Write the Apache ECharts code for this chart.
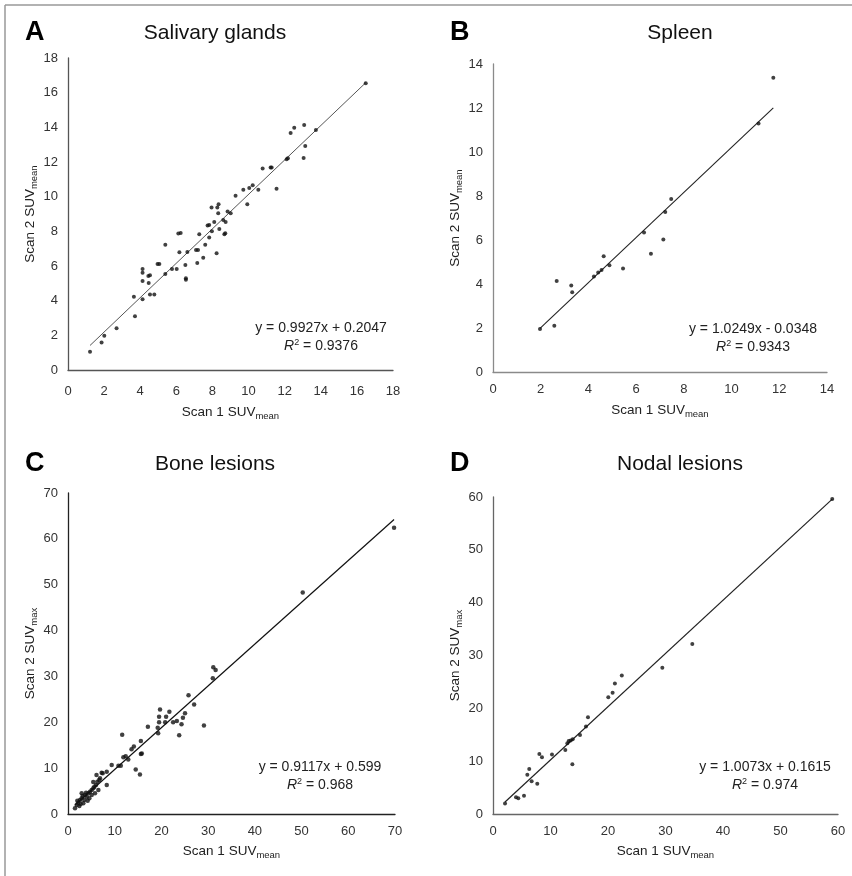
<!DOCTYPE html>
<html>
<head>
<meta charset="utf-8">
<script src="https://cdn.jsdelivr.net/npm/echarts@6/dist/echarts.min.js"></script>
<style>
html, body { margin: 0; padding: 0; background: #fff; }
#chart { width: 852px; height: 876px; }
</style>
</head>
<body>
<div id="chart"></div>
<script>
// A - salivary glands (scan 1 vs scan 2 SUVmean)
var salivaryX = [1.22, 1.86, 2.01, 2.69, 3.71, 3.65, 4.13, 4.13, 4.13, 4.13, 4.45, 4.54, 4.47, 4.54, 4.78, 4.96, 5.06, 5.39, 5.39, 5.76,
	6.02, 6.11, 6.24, 6.17, 6.50, 6.53, 6.53, 6.61, 7.09, 7.20, 7.16, 7.27, 7.49, 7.60, 7.82, 7.73, 7.82, 7.97, 7.95, 8.10,
	8.23, 8.27, 8.34, 8.32, 8.38, 8.60, 8.73, 8.66, 8.71, 8.84, 9.01, 9.28, 9.71, 9.93, 10.04, 10.23, 10.54, 10.78, 11.22, 11.28,
	11.55, 12.11, 12.18, 12.33, 12.53, 13.08, 13.73, 13.14, 13.05, 16.49];
var salivaryY = [1.06, 1.58, 1.98, 2.41, 3.10, 4.23, 4.08, 5.13, 5.61, 5.83, 5.42, 5.46, 5.02, 4.36, 4.36, 6.12, 6.12, 5.54, 7.23, 5.83,
	5.83, 7.87, 7.90, 6.79, 6.06, 5.29, 5.20, 6.81, 6.92, 6.92, 6.17, 7.83, 6.48, 7.23, 7.64, 8.33, 8.37, 8.00, 9.37, 8.54,
	6.73, 9.37, 9.56, 9.04, 8.13, 8.65, 8.54, 7.83, 7.89, 9.14, 9.04, 10.06, 10.40, 9.56, 10.50, 10.66, 10.40, 11.62, 11.68, 11.68,
	10.46, 12.16, 12.22, 13.68, 13.98, 14.14, 13.85, 12.93, 12.23, 16.54];

// B - spleen
var spleenX = [1.97, 2.57, 2.67, 3.28, 3.32, 4.23, 4.41, 4.55, 4.64, 4.88, 5.45, 6.33, 6.62, 7.14, 7.22, 7.47, 11.13, 11.75];
var spleenY = [1.95, 2.10, 4.14, 3.93, 3.63, 4.34, 4.52, 4.64, 5.26, 4.85, 4.70, 6.34, 5.37, 6.02, 7.27, 7.86, 11.30, 13.37];

// C - bone lesions (SUVmean vs SUVmax)
var boneX = [1.50, 1.86, 2.00, 2.20, 2.43, 2.57, 2.71, 2.93, 2.93, 3.14, 3.28, 3.50, 3.64, 3.86, 4.00, 4.21, 4.35, 4.57, 4.71, 5.07,
	5.07, 5.42, 5.64, 5.78, 6.00, 6.28, 6.50, 6.85, 7.42, 5.40, 6.10, 6.70, 7.20, 8.30, 8.30, 9.35, 10.80, 11.30, 11.60, 11.85,
	12.35, 12.90, 13.60, 14.10, 14.50, 15.40, 15.60, 15.60, 15.80, 17.10, 19.20, 19.30, 19.50, 19.50, 19.70, 20.80, 21.00, 21.70, 22.50, 23.30,
	23.80, 24.30, 24.60, 25.05, 25.80, 27.00, 29.10, 31.00, 31.10, 31.60, 50.25, 69.80];
var boneY = [1.24, 1.96, 2.90, 2.47, 1.74, 3.05, 2.18, 3.41, 4.51, 3.92, 2.32, 3.05, 4.14, 4.65, 3.78, 2.90, 4.51, 3.41, 4.87, 5.23,
	4.14, 5.60, 5.96, 4.51, 6.30, 7.05, 5.23, 7.77, 8.87, 7.00, 8.50, 7.40, 9.00, 9.20, 6.30, 10.70, 10.50, 10.50, 17.30, 12.40,
	12.60, 11.90, 14.10, 14.70, 9.70, 8.60, 15.90, 13.10, 13.20, 19.00, 18.80, 17.60, 21.20, 20.00, 22.80, 20.00, 21.20, 22.30, 20.00, 20.30,
	17.20, 19.55, 21.00, 21.95, 25.90, 23.90, 19.30, 29.60, 32.00, 31.40, 48.30, 62.40];

// D - nodal lesions
var nodalX = [2.09, 4.00, 4.40, 5.39, 5.97, 6.30, 6.72, 7.70, 8.06, 8.52, 10.26, 12.58, 12.93, 13.16, 13.50, 13.86, 13.80, 15.13, 16.17, 16.52,
	20.05, 20.80, 21.20, 22.40, 29.45, 34.66, 59.00];
var nodalY = [2.00, 3.16, 2.97, 3.47, 7.45, 8.52, 6.19, 5.74, 11.36, 10.74, 11.24, 12.12, 13.38, 13.83, 13.90, 14.14, 9.40, 14.96, 16.54, 18.30,
	22.10, 22.97, 24.70, 26.20, 27.70, 32.20, 59.60];

var letters = ['A', 'B', 'C', 'D'];
var titles = ['Salivary glands', 'Spleen', 'Bone lesions', 'Nodal lesions'];
var slopes = [0.9927, 1.0249, 0.9117, 1.0073];
var intercepts = [0.2047, -0.0348, 0.599, 0.1615];
var eqTexts = ['y = 0.9927x + 0.2047', 'y = 1.0249x - 0.0348', 'y = 0.9117x + 0.599', 'y = 1.0073x + 0.1615'];
var r2Texts = ['0.9376', '0.9343', '0.968', '0.974'];
var axisMax = [18, 14, 70, 60];
var axisStep = [2, 2, 10, 10];
var yNames = ['mean', 'mean', 'max', 'max'];

var FONT = '"Liberation Sans", Arial, sans-serif';
var NARROW = '"Liberation Sans Narrow", "Liberation Sans", Arial, sans-serif';

var xs = [salivaryX, spleenX, boneX, nodalX];
var ys = [salivaryY, spleenY, boneY, nodalY];

// pixel layout of each panel
var grids = [
	{ left: 68, top: 58, width: 325, height: 312 },
	{ left: 493, top: 64, width: 334, height: 308 },
	{ left: 68, top: 493, width: 327, height: 321 },
	{ left: 493, top: 497, width: 345, height: 317 }
];
var axisColors = ['#555', '#8a8a8a', '#222', '#666'];
var trendColors = ['#555', '#222', '#111', '#222'];
var trendWidths = [1, 1.1, 1.2, 1.2];
var dotSizes = [4, 4, 4.5, 4];
var xLabelMargin = [15, 11, 11, 11];
var xNameGap = [33, 29, 28, 28];
var yNameGap = [23, 29, 22, 27];
var titlePos = [[215, 33], [680, 33], [215, 464], [680, 464]];
var letterPos = [[35, 34], [460, 34], [35, 465], [460, 465]];
var eqPos = [[321, 328], [753, 329], [320, 767], [765, 767]];

function subName(main, sub) {
	return '{a|' + main + '}{b|' + sub + '}';
}
var richSub = {
	a: { fontSize: 13.5, fontFamily: FONT, color: '#222', lineHeight: 18 },
	b: { fontSize: 9.5, fontFamily: FONT, color: '#222', lineHeight: 9, verticalAlign: 'bottom' }
};

var option = { animation: false, grid: [], xAxis: [], yAxis: [], series: [], graphic: [] };

for (var i = 0; i < 4; i++) {
	var g = grids[i];
	option.grid.push({ left: g.left, top: g.top, width: g.width, height: g.height });
	var axisCommon = {
		type: 'value', gridIndex: i, min: 0, max: axisMax[i], interval: axisStep[i],
		splitLine: { show: false },
		axisTick: { show: false },
		axisLine: { lineStyle: { color: axisColors[i], width: 1.3 } },
		axisLabel: { fontSize: 13, fontFamily: FONT, color: '#333' },
		nameLocation: 'middle',
		nameTextStyle: { rich: richSub }
	};
	option.xAxis.push(Object.assign({}, axisCommon, {
		name: subName('Scan 1 SUV', 'mean'),
		nameGap: xNameGap[i],
		axisLabel: Object.assign({}, axisCommon.axisLabel, { margin: xLabelMargin[i] })
	}));
	option.yAxis.push(Object.assign({}, axisCommon, {
		name: subName('Scan 2 SUV', yNames[i]),
		nameGap: yNameGap[i],
		nameRotate: 90,
		axisLabel: Object.assign({}, axisCommon.axisLabel, { margin: 10 })
	}));

	var pts = xs[i].map(function(x, k) { return [x, ys[i][k]]; });
	option.series.push({
		type: 'scatter', xAxisIndex: i, yAxisIndex: i, data: pts,
		symbolSize: dotSizes[i], itemStyle: { color: '#111' }, z: 3
	});

	var x0 = Math.min.apply(null, xs[i]), x1 = Math.max.apply(null, xs[i]);
	option.series.push({
		type: 'line', xAxisIndex: i, yAxisIndex: i, showSymbol: false, silent: true,
		data: [[x0, slopes[i] * x0 + intercepts[i]], [x1, slopes[i] * x1 + intercepts[i]]],
		lineStyle: { color: trendColors[i], width: trendWidths[i] }, z: 2
	});

	option.graphic.push({
		type: 'text', left: letterPos[i][0] - 10, top: letterPos[i][1] - 15,
		style: { text: letters[i], font: 'bold 27px ' + FONT, fill: '#000' }
	});
	option.graphic.push({
		type: 'text', x: titlePos[i][0], y: titlePos[i][1],
		style: { text: titles[i], font: '21px ' + NARROW, fill: '#111', align: 'center', verticalAlign: 'middle' }
	});
	option.graphic.push({
		type: 'text', x: eqPos[i][0], y: eqPos[i][1],
		style: { text: eqTexts[i], font: '14px ' + FONT, fill: '#222', align: 'center', verticalAlign: 'middle' }
	});
	option.graphic.push({
		type: 'text', x: eqPos[i][0], y: eqPos[i][1] + 18,
		style: {
			text: '{i|R}{s|2}{t| = ' + r2Texts[i] + '}', align: 'center', verticalAlign: 'middle',
			rich: {
				i: { font: 'italic 14px ' + FONT, fill: '#222', lineHeight: 16 },
				s: { font: '9px ' + FONT, fill: '#222', lineHeight: 9, verticalAlign: 'top' },
				t: { font: '14px ' + FONT, fill: '#222', lineHeight: 16 }
			}
		}
	});
}

// figure frame (top and left edges)
option.graphic.push({ type: 'line', shape: { x1: 5, y1: 5, x2: 852, y2: 5 }, style: { stroke: '#999', lineWidth: 1.5 } });
option.graphic.push({ type: 'line', shape: { x1: 5, y1: 5, x2: 5, y2: 876 }, style: { stroke: '#999', lineWidth: 1.5 } });

var chart = echarts.init(document.getElementById('chart'));
chart.setOption(option);
</script>
</body>
</html>
